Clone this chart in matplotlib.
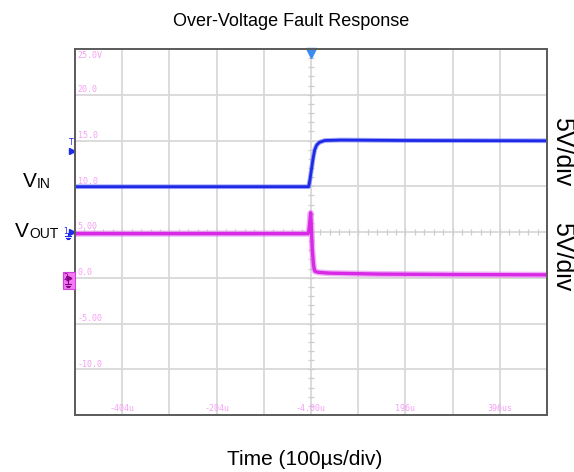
"""
Over-voltage fault response, redrawn from a scope capture.
"""

import numpy as np
import matplotlib
matplotlib.use("Agg")
import matplotlib.pyplot as plt
import matplotlib.transforms as mtrans
from matplotlib.lines import Line2D
from matplotlib.patches import Rectangle

# --- Data (screen volts) ---

# time in microseconds, VIN trace
vin_t = [-504, -200, -9, -6, -4, -2, 0, 2, 4, 8, 14, 25, 60, 200, 496]
vin_v = [9.95, 9.95, 9.95, 10.8, 11.5, 12.2, 12.9, 13.5, 14.0, 14.5, 14.8, 15.0, 15.05, 15.0, 14.97]

# VOUT trace
vout_t = [-504, -200, -10, -8, -6, -4.7, -3.8, -2.6, -1.2, 1, 2.5, 4.5, 11.5, 36, 142, 300, 496]
vout_v = [4.82, 4.82, 4.82, 5.3, 6.4, 7.1, 6.3, 4.8, 3.0, 1.6, 1.0, 0.7, 0.59, 0.5, 0.4, 0.35, 0.32]

# scope screen labels
x_label_pos = [-404, -204, -4, 196, 396]
x_label_txt = ["-404u", "-204u", "-4.00u", "196u", "396us"]
y_label_pos = [25, 20, 15, 10, 5, 0, -5, -10]
y_label_txt = ["25.0V", "20.0", "15.0", "10.0", "5.00", "0.0", "-5.00", "-10.0"]

trig_time = -4
trig_level = 13.85
ch1_ground = 5.0
ch2_ground = 0.0

# --- Style ---
W, H = 574, 472
FONT = "Liberation Sans"
BLUE = "#1e2ae8"
PINK = "#d82ae6"
LABEL_PINK = "#f5a0f5"
GRID = "#d9d9d9"


def fx(px):
    return px / W


def fy(py):
    return 1 - py / H


def pt_shift(dx, dy):
    # shift in points, for markers hugging the frame
    return mtrans.ScaledTranslation(dx / 72, dy / 72, fig.dpi_scale_trans)


fig = plt.figure(figsize=(W / 100, H / 100), dpi=100)
ax = fig.add_axes([fx(75), fy(415), 472 / W, 366 / H])

ax.set_xlim(-504, 496)
ax.set_ylim(-15, 25)

# grid: 10 x 8 divisions
ax.set_xticks(np.arange(-404, 497, 100))
ax.set_yticks(np.arange(-10, 25, 5))
ax.tick_params(length=0, labelbottom=False, labelleft=False)
ax.grid(True, color=GRID, lw=1.3)
ax.set_axisbelow(True)
for s in ax.spines.values():
    s.set_color("#5a5a5a")
    s.set_linewidth(1.4)

# centre crosshair minor ticks
minor_x = np.arange(-484, 496, 20)
minor_y = np.arange(-14, 25, 1)
ax.plot(minor_x, np.full(len(minor_x), 5.0), ls="none", marker="|", ms=4, color="#cdcdcd", mew=0.9)
ax.plot(np.full(len(minor_y), -4.0), minor_y, ls="none", marker="_", ms=4, color="#cdcdcd", mew=0.9)

# traces: soft outer band + core
ax.plot(vin_t, vin_v, color="#6470f4", lw=3.4, alpha=0.6, solid_joinstyle="round")
ax.plot(vin_t, vin_v, color=BLUE, lw=2.0, solid_joinstyle="round")
ax.plot(vout_t, vout_v, color="#e77af0", lw=4.4, alpha=0.6, solid_joinstyle="round")
ax.plot(vout_t, vout_v, color=PINK, lw=2.4, solid_joinstyle="round")

# on-screen scale labels
for xp, xt in zip(x_label_pos, x_label_txt):
    ax.annotate(xt, xy=(xp, 0), xycoords=("data", "axes fraction"),
                xytext=(0, 1.5), textcoords="offset points",
                ha="center", va="bottom", fontsize=6,
                family="DejaVu Sans Mono", color=LABEL_PINK)
for yp, yt in zip(y_label_pos, y_label_txt):
    top = yp == y_label_pos[0]
    ax.annotate(yt, xy=(0, yp), xycoords=("axes fraction", "data"),
                xytext=(2, -1.5 if top else 0.5), textcoords="offset points",
                ha="left", va="top" if top else "bottom", fontsize=6,
                family="DejaVu Sans Mono", color=LABEL_PINK)

# trigger position marker at top
ax.plot([trig_time], [25], marker="v", ms=7, color="#3a8cf2", clip_on=False,
        transform=ax.transData + pt_shift(0, -3))

# trigger level marker at left
ax.plot([-504], [trig_level], marker=">", ms=4, color=BLUE, clip_on=False,
        transform=ax.transData + pt_shift(-2, 0))
ax.annotate("T", xy=(0, trig_level), xycoords=("axes fraction", "data"),
            xytext=(-3, 3), textcoords="offset points", ha="center", va="bottom",
            fontsize=5.5, color=BLUE, family="DejaVu Sans")

# channel 1 ground marker
ax.plot([-504], [ch1_ground], marker=">", ms=4, color=BLUE, clip_on=False,
        transform=ax.transData + pt_shift(-2, 0))
ax.annotate("1", xy=(0, ch1_ground), xycoords=("axes fraction", "data"),
            xytext=(-7, 0), textcoords="offset points", ha="center", va="center",
            fontsize=5.5, color=BLUE, family="DejaVu Sans")


def ground_symbol(cx, top, color):
    # little earth symbol in figure pixels
    fig.add_artist(Line2D([fx(cx), fx(cx)], [fy(top), fy(top + 3)], color=color, lw=0.8))
    for i, half in enumerate([3, 2, 1]):
        yy = top + 3 + i * 1.5
        fig.add_artist(Line2D([fx(cx - half), fx(cx + half)], [fy(yy), fy(yy)], color=color, lw=0.8))


ground_symbol(68, 233, BLUE)

# channel 2 ground marker (filled box)
fig.add_artist(Rectangle((fx(63), fy(289)), 12 / W, 17 / H, facecolor="#f07cf0",
                         edgecolor="#d040d8", lw=0.8))
fig.text(fx(66), fy(278), "2", fontsize=5.5, color="#8a008a", ha="center", va="center",
         family="DejaVu Sans")
fig.add_artist(Line2D([fx(68.5)], [fy(278)], marker=">", ms=3.5, color="#8a008a", ls="none"))
ground_symbol(68, 281, "#8a008a")

# channel names
v_in = fig.text(fx(23), fy(187), "V", fontsize=15, family=FONT, ha="left", va="baseline")
ax.annotate("IN", xy=(1, 0), xycoords=v_in, ha="left", va="bottom", fontsize=10, family=FONT)
v_out = fig.text(fx(15), fy(237), "V", fontsize=15, family=FONT, ha="left", va="baseline")
ax.annotate("OUT", xy=(1, 0), xycoords=v_out, ha="left", va="bottom", fontsize=10, family=FONT)

# volts/div on the right edge
fig.text(1.0, fy(152), "5V/div", rotation=-90, fontsize=18, family=FONT,
         ha="right", va="center")
fig.text(1.0, fy(257), "5V/div", rotation=-90, fontsize=18, family=FONT,
         ha="right", va="center")

# title and axis caption
fig.text(fx(291), fy(26), "Over-Voltage Fault Response", fontsize=13, family=FONT,
         ha="center", va="baseline")
fig.text(fx(305), fy(465), "Time (100µs/div)", fontsize=15, family=FONT,
         ha="center", va="baseline")

fig.savefig("out.png", dpi=100)
